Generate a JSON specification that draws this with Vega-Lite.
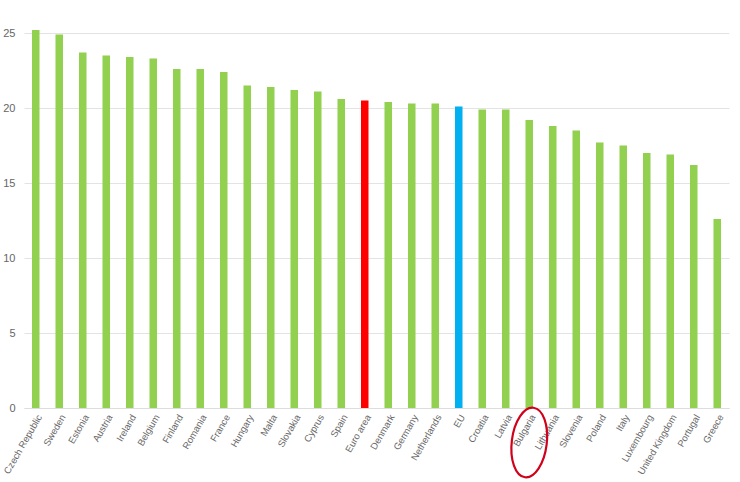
{
  "$schema": "https://vega.github.io/schema/vega-lite/v6.json",
  "width": 705,
  "height": 378,
  "autosize": "none",
  "padding": {"left": 24, "top": 30, "right": 11, "bottom": 74},
  "background": "white",
  "config": {
    "view": {"stroke": null},
    "font": "Liberation Sans",
    "axis": {"labelFont": "Liberation Sans", "labelColor": "#666666", "labelFontSize": 10}
  },
  "datasets": {
    "bars": [
      {"country": "Czech Republic", "value": 25.2, "group": "country"},
      {"country": "Sweden", "value": 24.9, "group": "country"},
      {"country": "Estonia", "value": 23.7, "group": "country"},
      {"country": "Austria", "value": 23.5, "group": "country"},
      {"country": "Ireland", "value": 23.4, "group": "country"},
      {"country": "Belgium", "value": 23.3, "group": "country"},
      {"country": "Finland", "value": 22.6, "group": "country"},
      {"country": "Romania", "value": 22.6, "group": "country"},
      {"country": "France", "value": 22.4, "group": "country"},
      {"country": "Hungary", "value": 21.5, "group": "country"},
      {"country": "Malta", "value": 21.4, "group": "country"},
      {"country": "Slovakia", "value": 21.2, "group": "country"},
      {"country": "Cyprus", "value": 21.1, "group": "country"},
      {"country": "Spain", "value": 20.6, "group": "country"},
      {"country": "Euro area", "value": 20.5, "group": "euro"},
      {"country": "Denmark", "value": 20.4, "group": "country"},
      {"country": "Germany", "value": 20.3, "group": "country"},
      {"country": "Netherlands", "value": 20.3, "group": "country"},
      {"country": "EU", "value": 20.1, "group": "eu"},
      {"country": "Croatia", "value": 19.9, "group": "country"},
      {"country": "Latvia", "value": 19.9, "group": "country"},
      {"country": "Bulgaria", "value": 19.2, "group": "country"},
      {"country": "Lithuania", "value": 18.8, "group": "country"},
      {"country": "Slovenia", "value": 18.5, "group": "country"},
      {"country": "Poland", "value": 17.7, "group": "country"},
      {"country": "Italy", "value": 17.5, "group": "country"},
      {"country": "Luxembourg", "value": 17.0, "group": "country"},
      {"country": "United Kingdom", "value": 16.9, "group": "country"},
      {"country": "Portugal", "value": 16.2, "group": "country"},
      {"country": "Greece", "value": 12.6, "group": "country"}
    ],
    "highlight": [{"country": "Bulgaria", "offset": -2.3}]
  },
  "layer": [
    {
      "data": {"name": "bars"},
      "mark": {"type": "bar"},
      "encoding": {
        "x": {
          "field": "country", "type": "nominal", "sort": null,
          "scale": {"paddingInner": 0.68, "paddingOuter": 0.34},
          "axis": {"title": null, "labelAngle": -60, "ticks": false, "domainColor": "#dddddd", "labelPadding": 7, "labelOffset": 4, "labelFontSize": 9.5}
        },
        "y": {
          "field": "value", "type": "quantitative",
          "scale": {"domain": [0, 25.2], "nice": false},
          "axis": {"title": null, "values": [0, 5, 10, 15, 20, 25], "domain": false, "ticks": false, "gridColor": "#e3e3e3", "labelPadding": 9, "labelFontSize": 11}
        },
        "color": {
          "field": "group", "type": "nominal",
          "scale": {"domain": ["country", "euro", "eu"], "range": ["#92d050", "#ff0000", "#00b0f0"]},
          "legend": null
        }
      }
    },
    {
      "data": {"name": "highlight"},
      "mark": {
        "type": "point",
        "shape": "M -0.5,0 A 0.5,1 0 1,0 0.5,0 A 0.5,1 0 1,0 -0.5,0 Z",
        "size": 4900,
        "filled": false,
        "stroke": "#d0021b",
        "strokeWidth": 2.2,
        "opacity": 1,
        "angle": 7
      },
      "encoding": {
        "x": {"field": "country", "type": "nominal", "sort": null},
        "y": {"field": "offset", "type": "quantitative"}
      }
    }
  ]
}
